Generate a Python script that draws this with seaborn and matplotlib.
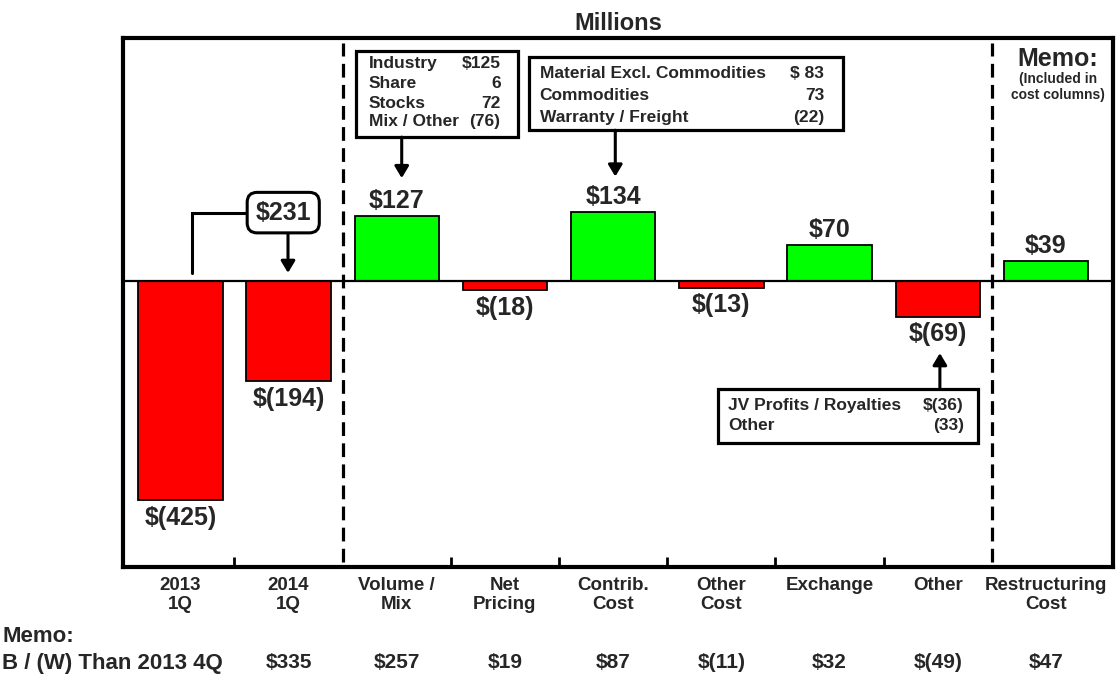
import matplotlib
matplotlib.use("Agg")
import matplotlib.pyplot as plt
from matplotlib import transforms
from matplotlib.patches import Rectangle
import pandas as pd
import seaborn as sns

# ---- data (US$ millions) ----
categories = ["2013\n1Q", "2014\n1Q", "Volume /\nMix", "Net\nPricing",
              "Contrib.\nCost", "Other\nCost", "Exchange", "Other",
              "Restructuring\nCost"]
values = [-425, -194, 127, -18, 134, -13, 70, -69, 39]
# B / (W) than 2013 4Q, for every column from "2014 1Q" onwards
memo_values = [335, 257, 19, 87, -11, 32, -49, 47]
improvement = 231

volume_items = ["Industry", "Share", "Stocks", "Mix / Other"]
volume_amounts = ["$125", "6", "72", "(76)"]
contrib_items = ["Material Excl. Commodities", "Commodities", "Warranty / Freight"]
contrib_amounts = ["$ 83", "73", "(22)"]
other_items = ["JV Profits / Royalties", "Other"]
other_amounts = ["$(36)", "(33)"]

GREEN = "#00FF00"
RED = "#FF0000"


def money(v):
    return f"${v}" if v >= 0 else f"$({-v})"


sns.set_style("white")
plt.rcParams["font.family"] = ["Liberation Sans", "DejaVu Sans"]
plt.rcParams["font.weight"] = "bold"

df = pd.DataFrame({"category": categories, "value": values})
df["sign"] = ["up" if v >= 0 else "down" for v in values]

fig = plt.figure(figsize=(11.18, 6.77), dpi=100)
ax = fig.add_axes([123 / 1118, 1 - 567 / 677, 990 / 1118, 529 / 677])

sns.barplot(data=df, x="category", y="value", hue="sign", order=categories,
            palette={"up": GREEN, "down": RED}, dodge=False, width=0.78,
            saturation=1, edgecolor="black", linewidth=1.3, legend=False,
            ax=ax, zorder=3)

ax.set_xlim(-0.53, 8.62)
ax.set_ylim(-555, 472)
ax.set_xlabel("")
ax.set_ylabel("")
ax.set_yticks([])

for s in ax.spines.values():
    s.set_visible(True)
    s.set_linewidth(3)
    s.set_color("black")

ax.axhline(0, color="black", lw=1.6, zorder=4)
for xv in (1.5, 7.5):
    ax.axvline(xv, ymin=0.01, ymax=0.99, color="black", lw=2.3,
               ls=(0, (4.3, 2.3)), zorder=2)

# category labels and separators along the bottom
ax.set_xticks(range(len(categories)))
ax.set_xticklabels(categories, fontsize=13.5, fontweight="bold",
                   linespacing=1.15)
ax.tick_params(axis="x", which="major", length=0, pad=7)
ax.set_xticks([0.5, 2.5, 3.5, 4.5, 5.5, 6.5], minor=True)
ax.tick_params(axis="x", which="minor", direction="in", length=7, width=2,
               bottom=True, color="black")

# value labels
for i, v in enumerate(values):
    if v >= 0:
        ax.annotate(money(v), (i, v), xytext=(0, 2), textcoords="offset points",
                    ha="center", va="bottom", fontsize=18, fontweight="bold",
                    zorder=6)
    else:
        ax.annotate(money(v), (i, v), xytext=(0, -4), textcoords="offset points",
                    ha="center", va="top", fontsize=18, fontweight="bold",
                    zorder=6)

fig.text(618 / 1118, 1 - 23 / 677, "Millions", ha="center", va="center",
         fontsize=17, fontweight="bold")

arrow_kw = dict(arrowstyle="-|>,head_length=0.5,head_width=0.3", color="black",
                lw=2.2, shrinkA=0, shrinkB=0, mutation_scale=14)


def note_box(x0, x1, y0, y1, items, amounts, left, right, rows):
    ax.add_patch(Rectangle((x0, y0), x1 - x0, y1 - y0, fc="white", ec="black",
                           lw=2.3, zorder=6, clip_on=False))
    for item, amt, y in zip(items, amounts, rows):
        ax.text(left, y, item, ha="left", va="center", fontsize=12.5,
                fontweight="bold", zorder=7)
        ax.text(right, y, amt, ha="right", va="center", fontsize=12.5,
                fontweight="bold", zorder=7)


# Volume / Mix breakdown
note_box(1.62, 3.12, 279.6, 446.6, volume_items, volume_amounts,
         1.74, 2.96, [423, 384, 345, 309])
ax.annotate("", xy=(2.046, 200), xytext=(2.046, 279.6), arrowprops=arrow_kw,
            zorder=6)

# Contribution cost breakdown
note_box(3.22, 6.12, 293, 435, contrib_items, contrib_amounts,
         3.32, 5.95, [404, 361, 318])
ax.annotate("", xy=(4.02, 203), xytext=(4.02, 293), arrowprops=arrow_kw,
            zorder=6)

# Other breakdown
note_box(4.97, 7.37, -314.6, -209.7, other_items, other_amounts,
         5.06, 7.24, [-241, -280])
ax.annotate("", xy=(7.02, -139.8), xytext=(7.02, -209.7), arrowprops=arrow_kw,
            zorder=6)

# year-over-year improvement callout
ax.plot([0.109, 0.109, 0.9], [15.5, 133, 133], color="black", lw=2.2,
        zorder=5, solid_joinstyle="miter")
ax.text(0.951, 133, money(improvement), ha="center", va="center", fontsize=18,
        fontweight="bold", zorder=8,
        bbox=dict(boxstyle="round,pad=0.33,rounding_size=0.4", fc="white",
                  ec="black", lw=2.2))
ax.annotate("", xy=(0.995, 16), xytext=(0.995, 100), arrowprops=arrow_kw,
            zorder=5)

# memo column header
ax.text(8.11, 431, "Memo:", ha="center", va="center", fontsize=18,
        fontweight="bold", zorder=6)
ax.text(8.11, 392, "(Included in", ha="center", va="center", fontsize=10,
        fontweight="bold", zorder=6)
ax.text(8.11, 361, "cost columns)", ha="center", va="center", fontsize=10,
        fontweight="bold", zorder=6)

# memo row under the chart
trans = transforms.blended_transform_factory(ax.transData, fig.transFigure)
for i, m in enumerate(memo_values, start=1):
    ax.text(i, 1 - 663 / 677, money(m), transform=trans, ha="center",
            va="center", fontsize=15, fontweight="bold")
fig.text(0.002, 1 - 637 / 677, "Memo:", ha="left", va="center", fontsize=16,
         fontweight="bold")
fig.text(0.002, 1 - 663 / 677, "B / (W) Than 2013 4Q", ha="left", va="center",
         fontsize=16, fontweight="bold")

fig.savefig("out.png", dpi=100)
